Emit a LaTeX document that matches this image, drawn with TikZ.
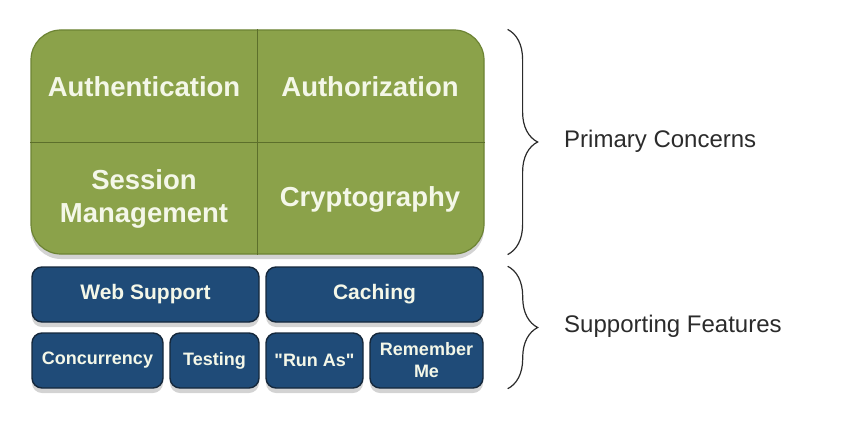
\documentclass[tikz,border=0pt]{standalone}
\usepackage{fontspec}
\setmainfont{Liberation Sans}
\usetikzlibrary{shadows,decorations.pathreplacing}
\definecolor{shgreen}{HTML}{8BA24A}
\definecolor{shgreenline}{HTML}{6D8434}
\definecolor{shgreendiv}{HTML}{5C6F2B}
\definecolor{shblue}{HTML}{1F4B78}
\definecolor{shblueline}{HTML}{15283C}
\definecolor{shtext}{HTML}{F4F7E8}
\definecolor{shgrey}{HTML}{2B2B2B}

\begin{document}
\begin{tikzpicture}[x=1pt,y=-1pt,
  core/.style={draw=shgreenline,line width=1.2pt,fill=shgreen,rounded corners=30pt,
    minimum width=453pt,minimum height=224pt,inner sep=0pt,
    drop shadow={shadow xshift=0pt,shadow yshift=-5pt,opacity=0.35}},
  cell/.style={text=shtext,font=\fontsize{27.5}{33}\selectfont\bfseries,align=center},
  feat/.style={draw=shblueline,line width=1.4pt,fill=shblue,rounded corners=10pt,
    minimum height=55pt,inner sep=0pt,text=shtext,align=center,
    drop shadow={shadow xshift=0pt,shadow yshift=-5pt,opacity=0.35}},
  big/.style={font=\fontsize{21}{24}\selectfont\bfseries},
  small/.style={font=\fontsize{18}{22}\selectfont\bfseries},
  brc/.style={decorate,decoration={brace,amplitude=30pt},line width=1.2pt,draw=shgrey},
  lbl/.style={font=\fontsize{24}{28}\selectfont,text=shgrey,anchor=west,inner sep=0pt}]
  \useasboundingbox (0,0) rectangle (858,420);
  % primary concerns
  \node[core] (core) at (257.5,142) {};
  \draw[shgreendiv,line width=1pt] (core.north) -- (core.south);
  \draw[shgreendiv,line width=1pt] (core.west) -- (core.east);
  \node[cell] (authc) at (144,87) {Authentication};
  \node[cell] (authz) at (370,87) {Authorization};
  \node[cell] (sess) at (144,199) {Session\\Management};
  \node[cell] (crypt) at (370,199) {Cryptography};
  % supporting features
  \node[feat,big,minimum width=227pt] (web) at (145.5,294.5) {Web Support};
  \node[feat,big,minimum width=217pt] (cache) at (374.5,294.5) {Caching};
  \node[feat,small,minimum width=131pt] (conc) at (97.5,360.5) {Concurrency};
  \node[feat,small,minimum width=89pt] (test) at (214.5,360.5) {Testing};
  \node[feat,small,minimum width=97pt] (runas) at (314.5,360.5) {\textquotedbl Run As\textquotedbl};
  \node[feat,small,minimum width=113pt] (remember) at (426.5,360.5) {Remember\\Me};
  % braces
  \coordinate (pctop) at ([xshift=23pt]core.north east);
  \coordinate (pcbot) at ([xshift=23pt]core.south east);
  \coordinate (sftop) at ([xshift=24pt]cache.north east);
  \coordinate (sfbot) at ([xshift=24pt]remember.south east);
  \draw[brc] (pctop) -- (pcbot);
  \draw[brc] (sftop) -- (sfbot);
  \node[lbl] (primary) at (564,141) {Primary Concerns};
  \node[lbl] (support) at (564,326) {Supporting Features};
\end{tikzpicture}
\end{document}
